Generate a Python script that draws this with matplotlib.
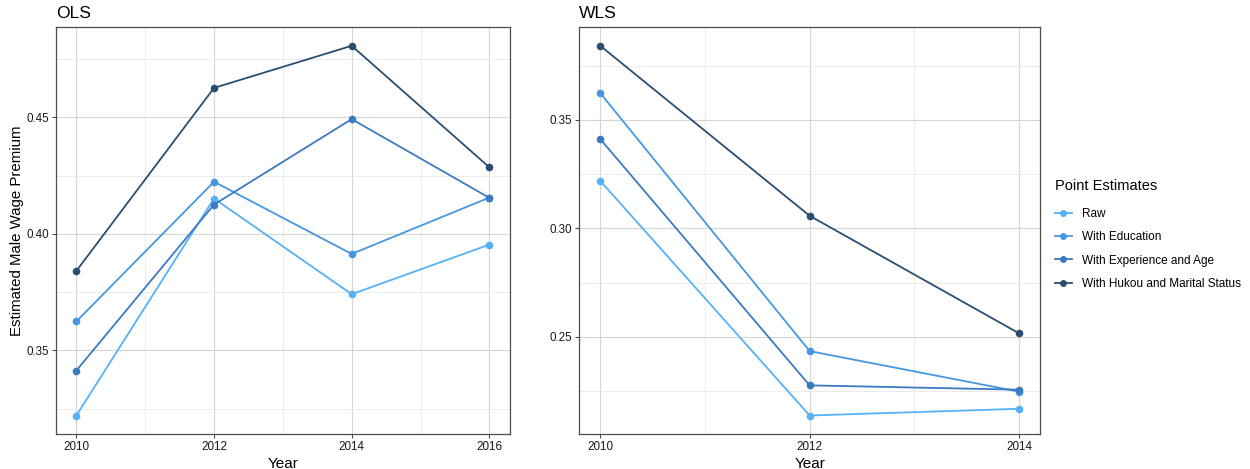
import matplotlib
matplotlib.use("Agg")
import matplotlib.pyplot as plt
from matplotlib.lines import Line2D
from matplotlib.ticker import FixedLocator

plt.rcParams['font.family'] = ['Liberation Sans', 'DejaVu Sans']

series = ["Raw", "With Education", "With Experience and Age", "With Hukou and Marital Status"]
colors = ["#56B1F7", "#4697E0", "#3A7BC1", "#2A4E72"]

ols_years = [2010, 2012, 2014, 2016]
ols_values = {
    "Raw": [0.322, 0.4152, 0.3741, 0.3954],
    "With Education": [0.3624, 0.4224, 0.3914, 0.4156],
    "With Experience and Age": [0.3413, 0.4126, 0.4493, 0.4155],
    "With Hukou and Marital Status": [0.3841, 0.4627, 0.4808, 0.4286],
}

wls_years = [2010, 2012, 2014]
wls_values = {
    "Raw": [0.3219, 0.2137, 0.2168],
    "With Education": [0.3624, 0.2434, 0.2247],
    "With Experience and Age": [0.3412, 0.2276, 0.2256],
    "With Hukou and Marital Status": [0.3842, 0.3058, 0.2516],
}

ols_yticks = [0.35, 0.40, 0.45]
ols_yminor = [0.325, 0.375, 0.425, 0.475]
wls_yticks = [0.25, 0.30, 0.35]
wls_yminor = [0.225, 0.275, 0.325, 0.375]

W, H = 1250, 469
fig = plt.figure(figsize=(W / 100, H / 100), dpi=100)

def px_axes(l, r, t, b):
    return fig.add_axes([l / W, 1 - b / H, (r - l) / W, (b - t) / H])

ax1 = px_axes(55.7, 510, 27.3, 434)
ax2 = px_axes(579.3, 1040, 27.3, 434)

def style(ax, years, values, yticks, yminor, xminor, title):
    for s, c in zip(series, colors):
        ax.plot(years, values[s], color=c, lw=1.3, marker='o', ms=5.5,
                markeredgewidth=0, zorder=3)
    ax.margins(x=0.05, y=0.05)
    ax.set_xticks(years)
    ax.set_xticklabels([str(y) for y in years])
    ax.xaxis.set_minor_locator(FixedLocator(xminor))
    ax.set_yticks(yticks)
    ax.set_yticklabels([f"{v:.2f}" for v in yticks])
    ax.yaxis.set_minor_locator(FixedLocator(yminor))
    ax.grid(which='major', color='#d6d6d6', lw=0.8, zorder=0)
    ax.grid(which='minor', color='#ececec', lw=0.7, zorder=0)
    ax.set_axisbelow(True)
    for sp in ax.spines.values():
        sp.set_color('#4d4d4d')
        sp.set_linewidth(0.9)
    ax.tick_params(which='major', length=2.7, width=0.8, color='#4d4d4d',
                   labelsize=8.4, labelcolor='#1a1a1a', pad=2.2)
    ax.tick_params(which='minor', length=0)
    ax.set_xlabel("Year", fontsize=11, labelpad=3)
    ax.set_title(title, loc='left', fontsize=12.6, pad=7)

style(ax1, ols_years, ols_values, ols_yticks, ols_yminor, [2011, 2013, 2015], "OLS")
style(ax2, wls_years, wls_values, wls_yticks, wls_yminor, [2011, 2013], "WLS")
ax1.set_ylabel("Estimated Male Wage Premium", fontsize=10.8)
ax1.yaxis.set_label_coords((24.5 - 55.7) / 454.3, 0.5)

handles = [Line2D([], [], color=c, lw=1.3, marker='o', ms=5, markeredgewidth=0)
           for c in colors]
fig.text(1055 / W, 1 - 186 / H, "Point Estimates", fontsize=10.5,
         ha='left', va='center')
leg = fig.legend(handles, series, loc='upper left',
                 bbox_to_anchor=(1044 / W, 1 - 197.5 / H), frameon=False,
                 fontsize=8.5, handlelength=1.5,
                 labelspacing=0.95, handletextpad=0.85)

fig.savefig("out.png", dpi=100)
